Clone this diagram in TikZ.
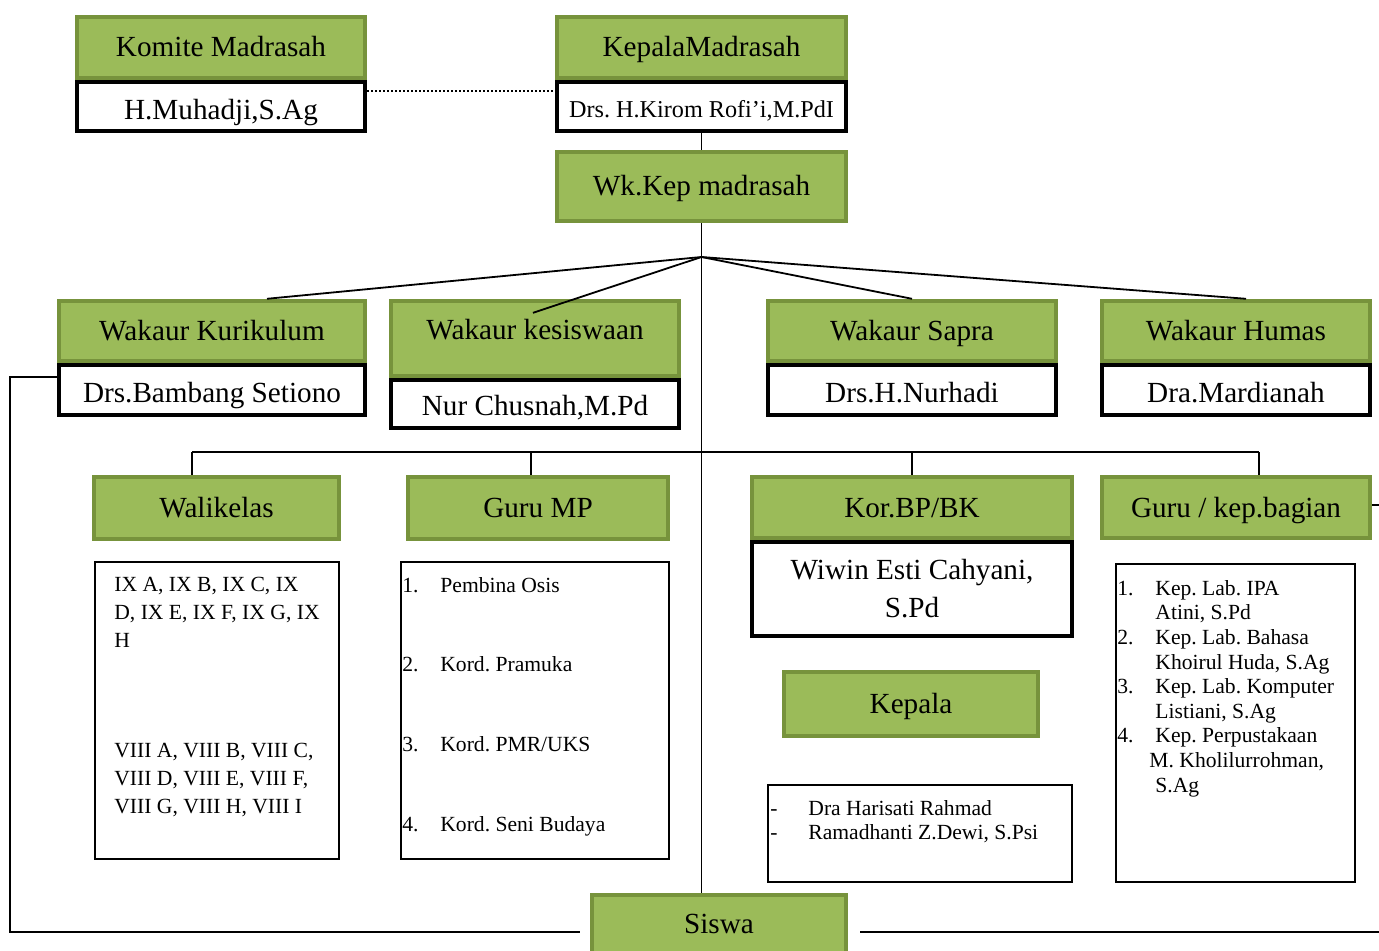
\documentclass[tikz,border=0pt]{standalone}
\usepackage{fontspec}
\setmainfont{Liberation Serif}
\frenchspacing
\definecolor{kgreen}{HTML}{9BBB59}
\definecolor{kolive}{HTML}{77933C}
\newcommand{\butir}[1]{\makebox[19pt][l]{#1}}
\begin{document}
\begin{tikzpicture}[x=0.5pt,y=-0.5pt,
    judul/.style={draw=kolive,fill=kgreen,line width=2.2pt,inner sep=0pt,text height=9.5pt,text depth=0pt,font=\fontsize{14.6}{16}\selectfont},
    kotak/.style={draw=black,fill=white,line width=2.2pt,inner sep=0pt,font=\fontsize{14.6}{16}\selectfont},
    nama/.style={kotak,text height=13pt,text depth=0pt},
    daftar/.style={draw=black,line width=0.8pt,inner sep=0pt},
    isi/.style={inner sep=0pt,align=left,anchor=north west,font=\fontsize{10.8}{12.3}\selectfont},
    garis/.style={line width=0.9pt}]
    \useasboundingbox (0,0) rectangle (1379,951);
    \node[judul,minimum width=144pt,minimum height=30.5pt] (komite) at (221,47.5) {Komite Madrasah};
    \node[nama,minimum width=144pt,minimum height=24.5pt] (komiteN) at (221,106.5) {H.Muhadji,S.Ag};
    \node[judul,minimum width=144.5pt,minimum height=30.5pt] (kepala) at (701.5,47.5) {KepalaMadrasah};
    \node[nama,minimum width=144.5pt,minimum height=24.5pt,font=\fontsize{12.1}{14}\selectfont,text height=11pt] (kepalaN) at (701.5,106.5) {Drs. H.Kirom Rofi'i,M.PdI};
    \node[judul,minimum width=144.5pt,minimum height=34.5pt] (wakil) at (701.5,186.5) {Wk.Kep madrasah};
    \node[judul,minimum width=153pt,minimum height=30pt] (kur) at (212,331) {Wakaur Kurikulum};
    \node[nama,minimum width=153pt,minimum height=25pt] (kurN) at (212,390) {Drs.Bambang Setiono};
    \node[judul,minimum width=144pt,minimum height=37.5pt,text depth=8pt] (kes) at (535,338.5) {Wakaur kesiswaan};
    \node[nama,minimum width=144pt,minimum height=24pt,text height=11.5pt] (kesN) at (535,404) {Nur Chusnah,M.Pd};
    \node[judul,minimum width=144pt,minimum height=30pt] (sapra) at (912,331) {Wakaur Sapra};
    \node[nama,minimum width=144pt,minimum height=25pt] (sapraN) at (912,390) {Drs.H.Nurhadi};
    \node[judul,minimum width=134pt,minimum height=30pt] (humas) at (1236,331) {Wakaur Humas};
    \node[nama,minimum width=134pt,minimum height=25pt] (humasN) at (1236,390) {Dra.Mardianah};
    \node[judul,minimum width=122.5pt,minimum height=31pt] (wali) at (216.5,508) {Walikelas};
    \node[judul,minimum width=130pt,minimum height=31pt] (gurump) at (538,508) {Guru MP};
    \node[judul,minimum width=160pt,minimum height=30.5pt] (bpbk) at (912,507.5) {Kor.BP/BK};
    \node[kotak,minimum width=160pt,minimum height=47pt,align=center,font=\fontsize{14.6}{19}\selectfont] (bpbkN) at (912,589) {Wiwin Esti Cahyani,\\S.Pd};
    \node[judul,minimum width=134pt,minimum height=30.5pt] (gurukep) at (1236,507.5) {Guru / kep.bagian};
    \node[judul,minimum width=127pt,minimum height=32pt] (kepbk) at (911,704) {Kepala};
    \node[judul,minimum width=127pt,minimum height=31pt,text depth=2pt] (siswa) at (719,926) {Siswa};
    \node[daftar,minimum width=122pt,minimum height=148.5pt] (waliL) at (217,710.5) {};
    \node[daftar,minimum width=134pt,minimum height=148.5pt] (mpL) at (535,710.5) {};
    \node[daftar,minimum width=152pt,minimum height=48.5pt] (bkL) at (920,833.5) {};
    \node[daftar,minimum width=119.5pt,minimum height=159pt] (kepL) at (1235.5,723) {};
    \node[isi,font=\fontsize{10.8}{14}\selectfont] (waliT) at (114,577) {IX A, IX B, IX C, IX\\D, IX E, IX F, IX G, IX\\H\\[41pt]VIII A, VIII B, VIII C,\\VIII D, VIII E, VIII F,\\VIII G, VIII H, VIII I};
    \node[isi] (mpT) at (402,577) {\butir{1.}Pembina Osis\\[27.5pt]\butir{2.}Kord. Pramuka\\[27.5pt]\butir{3.}Kord. PMR/UKS\\[27.5pt]\butir{4.}Kord. Seni Budaya};
    \node[isi] (bkT) at (770,800) {\butir{-}Dra Harisati Rahmad\\\butir{-}Ramadhanti Z.Dewi, S.Psi};
    \node[isi] (kepT) at (1117,580) {\butir{1.}Kep. Lab. IPA\\\butir{}Atini, S.Pd\\\butir{2.}Kep. Lab. Bahasa\\\butir{}Khoirul Huda, S.Ag\\\butir{3.}Kep. Lab. Komputer\\\butir{}Listiani, S.Ag\\\butir{4.}Kep. Perpustakaan\\\hspace{16pt}M. Kholilurrohman,\\\butir{}S.Ag};
    \coordinate (hub) at (701.5,257);
    \coordinate (busL) at (192,452);
    \coordinate (busM) at (531,452);
    \coordinate (busR) at (1259,452);
    \coordinate (kiri) at (10,932);
    \coordinate (kanan) at (1392,932);
    \draw[garis,line width=1.2pt,dash pattern=on 1pt off 1pt] ([yshift=7.75pt]komiteN.east) -- ([yshift=7.75pt]komiteN.east -| kepalaN.west);
    \draw[garis] (kepalaN) -- (wakil);
    \draw[garis] (wakil.south) -- (wakil.south |- siswa.north);
    \draw[garis] (hub) -- ([xshift=27.5pt]kur.north);
    \draw[garis] (hub) -- ([xshift=-1pt,yshift=-7pt]kes.north);
    \draw[garis] (hub) -- (sapra.north);
    \draw[garis] (hub) -- ([xshift=5pt]humas.north);
    \draw[garis] (busL) -- (busR);
    \draw[garis] (busL) -- (busL |- wali.north);
    \draw[garis] (busM) -- (busM |- gurump.north);
    \draw[garis] (busL -| bpbk.north) -- (bpbk.north);
    \draw[garis] (busR) -- (busR |- gurukep.north);
    \draw[garis,shorten >=5pt] ([yshift=6.5pt]kurN.west) -| (kiri) -- (siswa.west |- kiri);
    \draw[garis,shorten >=6pt] ([yshift=1.25pt]gurukep.east) -| (kanan) -- (siswa.east |- kanan);
\end{tikzpicture}
\end{document}
